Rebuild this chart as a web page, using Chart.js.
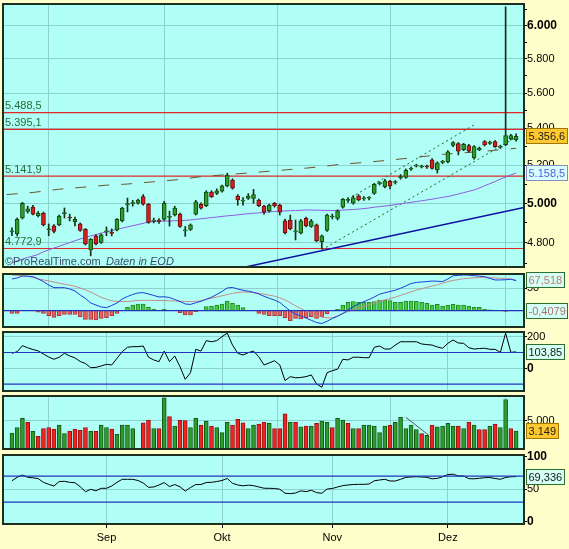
<!DOCTYPE html>
<html>
<head>
<meta charset="utf-8">
<script src="https://cdn.jsdelivr.net/npm/chart.js@4.4.1/dist/chart.umd.min.js"></script>
<style>
html, body { margin: 0; padding: 0; background: #FFFFCC; }
#wrap { position: relative; width: 569px; height: 549px; background: #FFFFCC; overflow: hidden; }
canvas { position: absolute; left: 0; }
</style>
</head>
<body>
<div id="wrap">
  <canvas id="price" width="569" height="280" style="top:0px"></canvas>
  <canvas id="macd" width="569" height="73" style="top:264px"></canvas>
  <canvas id="cci" width="569" height="79" style="top:322px"></canvas>
  <canvas id="vol" width="569" height="73" style="top:386px"></canvas>
  <canvas id="rsi" width="569" height="104" style="top:445px"></canvas>
</div>
<script>
// trading days
const dates = ['06.08','09.08','10.08','11.08','12.08','13.08','16.08','17.08','18.08','19.08','20.08','23.08','24.08','25.08','26.08','27.08','30.08','31.08',
  '01.09','02.09','03.09','06.09','07.09','08.09','09.09','10.09','13.09','14.09','15.09','16.09','17.09','20.09','21.09','22.09','23.09','24.09','27.09','28.09','29.09','30.09',
  '01.10','04.10','05.10','06.10','07.10','08.10','11.10','12.10','13.10','14.10','15.10','18.10','19.10','20.10','21.10','22.10','25.10','26.10','27.10','28.10','29.10',
  '01.11','02.11','03.11','04.11','05.11','08.11','09.11','10.11','11.11','12.11','15.11','16.11','17.11','18.11','19.11','22.11','23.11','24.11','25.11','26.11','29.11','30.11',
  '01.12','02.12','03.12','06.12','07.12','08.12','09.12','10.12','13.12','14.12','15.12','16.12','17.12','20.12'];
const monthNames = { '09': 'Sep', '10': 'Okt', '11': 'Nov', '12': 'Dez' };

const open = [4855,4845,4926,4958,4980,4937,4949,4866,4885,4890,4947,4928,4906,4895,4868,4766,4835,4803,4855,4850,
  4865,4911,4993,4998,5000,5034,4995,4909,4912,4918,4928,4940,4945,4860,4868,4945,4995,4988,5058,5051,
  5063,5090,5121,5037,5011,5025,5025,5017,4986,4962,5000,4991,4911,4915,4855,4849,4923,4882,4890,4806,
  4862,4930,4923,4980,5015,5000,5039,5023,5026,5051,5102,5086,5116,5108,5132,5135,5178,5195,5190,5193,
  5228,5174,5215,5218,5306,5317,5284,5306,5239,5282,5327,5318,5327,5296,5311,5342,5336];
const high = [4875,4925,5005,4985,4990,4958,4955,4895,4892,4940,4976,4945,4930,4900,4872,4822,4840,4845,4880,4870,
  4922,4980,5027,5015,5022,5045,5000,4925,4922,5010,4960,4985,4950,4882,4895,5015,5003,5065,5065,5075,
  5095,5157,5128,5045,5030,5050,5072,5022,4990,4996,5005,4996,4920,4940,4915,4918,4930,4918,4895,4840,
  4945,4945,4966,5025,5030,5040,5045,5035,5035,5103,5112,5125,5120,5118,5150,5180,5190,5205,5200,5200,
  5235,5218,5226,5278,5327,5322,5318,5312,5306,5298,5333,5330,5333,5308,6118,5368,5370];
const low = [4836,4835,4920,4950,4940,4930,4885,4836,4850,4886,4925,4910,4885,4858,4790,4737,4790,4798,4836,4835,
  4860,4905,4956,4985,4995,4990,4898,4900,4898,4912,4884,4935,4877,4833,4862,4940,4970,4983,5030,5045,
  5058,5085,5073,4990,4990,5020,5000,4983,4945,4955,4980,4940,4845,4865,4815,4845,4880,4878,4806,4771,
  4858,4920,4915,4975,5005,4995,5012,5015,5018,5046,5095,5080,5075,5100,5125,5130,5172,5190,5185,5183,
  5178,5158,5208,5212,5300,5255,5278,5270,5232,5278,5303,5312,5295,5290,5305,5336,5330];
const close = [4860,4918,5000,4971,4944,4950,4890,4870,4857,4935,4951,4925,4918,4862,4796,4818,4796,4840,4858,4848,
  4918,4975,4997,5002,5017,4995,4903,4913,4908,5000,4932,4975,4882,4864,4890,5007,4975,5058,5034,5065,
  5090,5147,5078,5017,5015,5037,5045,4988,4954,4991,4986,4954,4851,4870,4858,4911,4885,4910,4811,4836,
  4940,4934,4961,5020,5019,5028,5017,5027,5028,5098,5106,5117,5090,5111,5139,5172,5182,5199,5194,5190,
  5183,5213,5220,5272,5322,5275,5312,5275,5300,5291,5309,5322,5300,5300,5360,5360,5356.6];
const ma50 = [4705,4712,4721,4729,4736,4744,4757,4766,4775,4784,4793,4802,4811,4820,4827,4835,4842,4849,4855,4862,
  4868,4874,4880,4886,4892,4898,4905,4907,4908,4909,4910,4911,4912,4913,4915,4918,4921,4924,4927,4930,
  4933,4936,4938,4941,4944,4947,4949,4951,4953,4956,4958,4960,4961,4962,4963,4964,4966,4965,4965,4964,
  4964,4963,4964,4965,4967,4968,4970,4973,4976,4980,4983,4986,4989,4993,4997,5001,5005,5009,5013,5017,
  5021,5026,5031,5035,5041,5048,5055,5062,5069,5079,5091,5102,5113,5126,5137,5148,5158.5];
const maLongIdx = [-1, 4, 9, 13, 18, 22, 27, 32, 36, 45, 50, 54, 59, 63, 67, 72, 77, 82, 90, 96];
const maLong = [5045,5056,5073,5082,5094,5100,5112,5124,5139,5158,5170,5179,5192,5206,5214,5227,5242,5258,5275,5291];
const levels = [5488.5, 5395.1, 5141.9, 4772.9];
const trendIdx = [40, 97.5], trendVal = [4659, 4979];
const chanLowIdx = [59, 96], chanLow = [4766, 5351];
const chanHighIdx = [63, 88], chanHigh = [5005, 5420];
const priceTicks = [4700,4800,4900,5000,5100,5200,5300,5400,5500,5600,5700,5800,5900,6000,6100];

const macdLine = [70.8,73.1,77.6,76.9,76,70.8,64.8,57.4,51.4,51.4,51.4,48.5,44,35.1,27.3,17.2,12.7,8.3,6.7,11.6,
  17.2,26.1,31.7,36.2,39.6,40.2,37.3,34,30.6,31.1,29.5,25,20.6,15,13.9,17.7,21,25.5,29.9,36.2,
  42.9,50.7,51.9,48.5,45.6,43.6,41.1,37.3,32.2,27.7,23.9,18.3,8.9,-0.7,-7.4,-11.8,-16.3,-21.5,-26.4,-28.6,
  -23.7,-17.4,-12.5,-6.3,1.6,9.2,15,20.1,25,30.6,36.9,40,42.9,45.6,50.1,55.2,60.6,63,64.1,65,
  66.2,65.7,65,70.8,78,78.9,79.6,79.3,78.2,77.1,76,72,68.6,68.6,69.1,70.2,67.1];
const macdSignal = [79.8,78.9,78,77.1,74.2,71.3,68.6,66.4,63.9,61.5,59.2,57,54.5,50.7,46.3,41.8,35.8,29.9,25.5,22.1,
  20.6,20.3,20.6,21.7,22.8,23.2,23.2,23,22.8,22.6,22.1,21.7,21.2,20.6,20.3,20.8,22.1,25.3,27.9,30.6,
  33.3,36,38.7,40.5,41.8,41.3,40.2,39.1,36.9,34.6,32.4,28.6,23.9,17.7,11.2,4.7,-1.1,-6.5,-11.6,-14.1,
  -16.1,-15.9,-11.4,-6.3,-2,2.2,6.5,9.8,14.1,18.1,21.5,23.9,27,30.4,34.2,38.2,41.8,46,48.9,52.1,
  55,57.9,61.5,65,67.5,69.5,71.3,72.6,73.3,74,74.6,74,73.1,72.2,71.3,70.8,67.518];
const macdHist = [-6,-6,0,0,0,-3.4,-6,-11.2,-15,-11.2,-8.3,-8.3,-8.3,-13.4,-19.4,-19.4,-20.8,-17.2,-15.6,-11.2,
  -6,0,7.4,12.7,15,15,7.4,2.9,0,2.9,0,0,-4.5,-9.6,-9.6,-2.2,0,8.9,10.5,12.7,
  15,21.7,16.3,12.7,6.7,0,0,-6,-8.3,-11.2,-11.2,-11.2,-15.6,-22.4,-17.2,-18.6,-15.6,-13.4,-17.2,-13.4,
  -7.4,0,2.9,12.7,18.6,20.1,18.6,18.6,18.6,20.1,23.9,23.9,22.4,18.6,18.6,21.7,21.7,21.7,18.6,16.3,
  12.7,14.1,10.5,12.7,14.1,12.7,12.7,10.5,7.4,7.4,2.9,2.2,1.6,0,-1.6,0,-0.4079];

const cci = [95,105,143,130,119,110,90.5,71.5,57,70,95,78,66,43,30,4,6,15,25,21,
  63,105,133,137,137,141,70,53,42,109,42,78,10,-70,-28,120,109,175,168,175,
  200,222,147,95,84,99,109,73,21,34,48,21,-78,-53,-60,-58,-53,-42,-99,-120,
  -28,-15,-6,57,53,70,70,67,67,133,141,122,122,147,168,168,168,168,154,150,
  147,135,127,158,179,160,158,130,122,125,127,120,120,101,222,101,103.85];

const volume = [2820,3800,5430,4700,3130,2230,3620,3800,3500,4220,2720,3130,3500,3310,3800,3130,3130,4220,3800,3500,
  2590,4220,4220,3620,0,4630,5120,3620,3620,9050,5720,4040,5120,5000,3800,5430,4220,4940,4040,3800,
  2900,4700,4220,5250,4630,3620,4220,4400,4700,4520,3620,3620,6210,4700,4700,3910,4040,4040,4520,4940,
  4700,3800,5430,5120,4520,3620,3620,4220,4220,4040,2900,4040,4220,4700,5610,3620,4220,3440,2720,2410,
  4220,3910,4040,4520,4040,4040,3620,4700,4220,3440,3440,4040,4400,3800,8740,3620,3149];
const volUp = [1,1,1,0,1,0,0,0,0,1,1,0,0,0,0,1,0,1,1,0,
  1,1,1,1,1,0,0,1,0,1,0,1,0,0,1,1,0,1,0,1,
  1,1,0,0,0,1,1,0,0,1,0,0,0,1,0,1,0,1,0,1,
  1,0,1,1,0,1,0,1,1,1,1,1,0,1,1,1,1,1,0,1,
  0,1,1,1,1,0,1,0,1,0,0,1,0,1,1,0,1];
const volTrendIdx = [75, 79.3], volTrend = [5600, 2470];

const rsi = [63,68.3,71.8,68.3,67.5,66.3,60.6,57.5,54.9,61.8,62.2,60.6,60,53.8,46.2,49.8,47.7,51.4,51.4,54.9,
  60.6,65.2,65.2,65.2,63.4,59.5,52.9,53.4,56.5,60.2,54,57.2,53.7,47.2,52.6,57.2,57.2,60.3,60.6,61.8,
  63.4,66.5,59.1,56.5,55.2,56.2,55.5,53.5,51.5,51.4,51.1,50,43.8,43.2,44.2,47.5,46.3,48.3,44.8,43.7,
  50.3,51.1,53.4,55.5,56.5,57.2,57.5,57.5,58,63,64.2,65.2,62.6,62.6,65.2,68.2,68.8,69.2,68.8,68.3,
  66,66.6,69.1,72.6,73.1,70.3,70.3,66.2,66,66.8,67.7,68,66.5,65.2,68,69.2,69.336];

const X_MIN = -1.7, X_MAX = 97.5;
const PANEL = '#B0FFF6', GRID = '#8ECFCF', FRAME = '#1F2F1F', HLINE = '#2233BB';
const FONT = '"Liberation Sans", Arial, sans-serif';
Chart.defaults.font.family = FONT;

const monthIdx = dates.map((d, i) => i).filter(i => i > 0 && dates[i].slice(3) !== dates[i - 1].slice(3));
const last = a => a[a.length - 1];
const pts = a => a.map((v, i) => ({ x: i, y: v }));
const pair = (xs, ys) => xs.map((x, i) => ({ x: x, y: ys[i] }));
const hline = (v, color, w) => ({ data: [{ x: X_MIN, y: v }, { x: X_MAX, y: v }], borderColor: color, borderWidth: w, pointRadius: 0, order: 0 });

function fmt(v, dec) {
  const s = Math.abs(v).toFixed(dec).split('.');
  const int = s[0].replace(/\B(?=(\d{3})+(?!\d))/g, '.');
  return (v < 0 ? '-' : '') + int + (dec ? ',' + s[1] : '');
}

function xScale(showLabels) {
  return {
    type: 'linear', min: X_MIN, max: X_MAX, offset: false,
    afterBuildTicks: s => { s.ticks = monthIdx.map(v => ({ value: v })); },
    afterFit: s => { s.height = showLabels ? 25 : 0; s.paddingLeft = 0; s.paddingRight = 0; },
    grid: { color: GRID, drawTicks: showLabels, tickLength: 4, tickColor: '#000' },
    border: { display: false },
    ticks: { display: showLabels, padding: 3, color: '#000', maxRotation: 0, autoSkip: false,
      font: { size: 11 }, callback: v => monthNames[dates[v].slice(3)] }
  };
}

function yScale(o) {
  return {
    type: o.type || 'linear', position: 'right', min: o.min, max: o.max,
    afterBuildTicks: s => { s.ticks = o.ticks.map(v => ({ value: v })); },
    afterFit: s => { s.width = 45; s.paddingTop = 0; s.paddingBottom = 0; },
    border: { display: true, color: '#000', width: 1.5 },
    grid: { color: c => (c.tick && o.grid.includes(c.tick.value)) ? GRID : 'rgba(0,0,0,0)',
      tickColor: '#000', tickLength: 3 },
    ticks: { padding: 0, color: '#000', autoSkip: false,
      font: c => (c.tick && o.bold.includes(c.tick.value)) ? { size: 12, weight: 'bold' } : { size: 11, weight: 'normal' },
      callback: o.label }
  };
}

function valueBox(ctx, y, text, fill, stroke, color) {
  ctx.save();
  ctx.font = '11px ' + FONT;
  const w = Math.round(ctx.measureText(text).width) + 5, h = 16, x = 526, top = Math.round(y - h / 2);
  ctx.fillStyle = fill;
  ctx.fillRect(x, top, w, h);
  ctx.strokeStyle = stroke;
  ctx.lineWidth = 1;
  ctx.strokeRect(x + 0.5, top + 0.5, w - 1, h - 1);
  ctx.fillStyle = color;
  ctx.textBaseline = 'middle';
  ctx.fillText(text, x + 2.5, top + h / 2 + 1);
  ctx.restore();
}

function panel(extra) {
  return {
    id: 'panel',
    beforeDraw(chart) {
      const a = chart.chartArea, ctx = chart.ctx;
      ctx.save();
      ctx.fillStyle = PANEL;
      ctx.fillRect(a.left, a.top, a.right - a.left, a.bottom - a.top);
      ctx.restore();
    },
    afterDraw(chart) {
      const a = chart.chartArea, ctx = chart.ctx;
      ctx.save();
      ctx.strokeStyle = FRAME;
      ctx.lineWidth = 2;
      ctx.strokeRect(a.left, a.top, a.right - a.left, a.bottom - a.top);
      ctx.restore();
      if (extra) extra(chart, ctx, a, chart.scales.y);
    }
  };
}

function options(padding, xs, ys) {
  return {
    responsive: false, animation: false, events: [],
    layout: { padding: padding, autoPadding: false },
    plugins: { legend: { display: false }, tooltip: { enabled: false } },
    scales: { x: xs, y: ys }
  };
}

// --- price panel ---
const up = dates.map((d, i) => close[i] >= open[i]);
new Chart(document.getElementById('price'), {
  type: 'line',
  data: { datasets: [
    { type: 'bar', data: dates.map((d, i) => ({ x: i, y: [open[i], close[i]] })),
      backgroundColor: up.map(u => u ? '#2E9B2E' : '#D62020'), borderColor: up.map(u => u ? '#0E4A0E' : '#6A0A0A'),
      borderWidth: 1, borderSkipped: false, barThickness: 4, minBarLength: 1, grouped: false, order: 1 },
    { type: 'bar', data: dates.map((d, i) => ({ x: i, y: [low[i], high[i]] })),
      backgroundColor: '#123012', barThickness: 1, grouped: false, order: 2 },
    { data: pts(ma50), borderColor: '#8E5BE0', borderWidth: 1, pointRadius: 0, order: 3 },
    { data: pair(maLongIdx, maLong), borderColor: '#6E5234', borderWidth: 1, borderDash: [11, 12], pointRadius: 0, order: 4 },
    { data: pair(trendIdx, trendVal), borderColor: '#1010A0', borderWidth: 1.5, pointRadius: 0, order: 5 },
    { data: pair(chanLowIdx, chanLow), borderColor: '#1A6A1A', borderWidth: 1, borderDash: [2, 3], pointRadius: 0, order: 5 },
    { data: pair(chanHighIdx, chanHigh), borderColor: '#1A6A1A', borderWidth: 1, borderDash: [2, 3], pointRadius: 0, order: 5 },
    ...levels.map(l => Object.assign(hline(l, '#E02828', 1.2), { order: 6 }))
  ] },
  options: options({ left: 3, top: 4, right: 0, bottom: 13 }, xScale(false),
    yScale({ type: 'logarithmic', min: 4683, max: 6137, ticks: priceTicks,
      grid: [4800, 5000, 5200, 5400, 5600, 5800, 6000], bold: [5000, 6000],
      label: v => (v % 200 === 0 && v >= 4800 && v <= 6000) ? fmt(v, 0) : '' })),
  plugins: [panel((chart, ctx, a, ys) => {
    ctx.save();
    ctx.font = '11px ' + FONT;
    ctx.fillStyle = '#2B6B3B';
    ctx.textBaseline = 'bottom';
    levels.forEach(l => ctx.fillText(fmt(l, 1), a.left + 2, ys.getPixelForValue(l) - 1));
    ctx.fillStyle = '#3B4C6B';
    ctx.textBaseline = 'alphabetic';
    ctx.fillText('\u00A9ProRealTime.com', a.left + 2, a.bottom - 2);
    ctx.font = 'italic 11px ' + FONT;
    ctx.fillText('Daten in EOD', a.left + 103, a.bottom - 2);
    ctx.restore();
    valueBox(ctx, ys.getPixelForValue(last(close)), fmt(last(close), 1), '#FFC82E', '#A07800', '#222');
    valueBox(ctx, ys.getPixelForValue(last(ma50)), fmt(last(ma50), 1), '#D6FFFF', '#8A8AC0', '#5A5AD8');
  })]
});

// --- MACD ---
new Chart(document.getElementById('macd'), {
  type: 'line',
  data: { datasets: [
    hline(0, HLINE, 1.2),
    { data: pts(macdLine), borderColor: '#1E3CD8', borderWidth: 1, pointRadius: 0, order: 1 },
    { data: pts(macdSignal), borderColor: '#C48C8C', borderWidth: 1, pointRadius: 0, order: 2 },
    { type: 'bar', data: pts(macdHist), barThickness: 4, grouped: false, order: 3,
      backgroundColor: macdHist.map(v => v >= 0 ? '#44CC44' : '#E86262'),
      borderColor: macdHist.map(v => v >= 0 ? '#228A22' : '#B03434'), borderWidth: 1 }
  ] },
  options: options({ left: 3, top: 10, right: 0, bottom: 10 }, xScale(false),
    yScale({ min: -36.4, max: 81.9, ticks: [50], grid: [50], bold: [], label: v => fmt(v, 0) })),
  plugins: [panel((chart, ctx, a, ys) => {
    valueBox(ctx, ys.getPixelForValue(last(macdSignal)), fmt(last(macdSignal), 3), '#D4FFF4', '#2E6E2E', '#C07878');
    valueBox(ctx, ys.getPixelForValue(last(macdHist)), fmt(last(macdHist), 4), '#D4FFF4', '#2E6E2E', '#B07070');
  })]
});

// --- CCI ---
new Chart(document.getElementById('cci'), {
  type: 'line',
  data: { datasets: [
    hline(100, HLINE, 1.2), hline(-100, HLINE, 1.2),
    { data: pts(cci), borderColor: '#000', borderWidth: 1, pointRadius: 0, order: 1 }
  ] },
  options: options({ left: 3, top: 10, right: 0, bottom: 10 }, xScale(false),
    yScale({ min: -143.7, max: 229.7, ticks: [0, 200], grid: [0, 200], bold: [0], label: v => fmt(v, 0) })),
  plugins: [panel((chart, ctx, a, ys) => {
    valueBox(ctx, ys.getPixelForValue(last(cci)), fmt(last(cci), 2), '#D4FFF4', '#2E6E2E', '#1A1A1A');
  })]
});

// --- volume ---
new Chart(document.getElementById('vol'), {
  type: 'line',
  data: { datasets: [
    { data: pair(volTrendIdx, volTrend), borderColor: '#555', borderWidth: 1, pointRadius: 0, order: 0 },
    { type: 'bar', data: pts(volume), barThickness: 4, grouped: false, order: 1,
      backgroundColor: volUp.map(u => u ? '#2E9B2E' : '#EE2424'),
      borderColor: volUp.map(u => u ? '#145A14' : '#9A1010'), borderWidth: 1 }
  ] },
  options: options({ left: 3, top: 10, right: 0, bottom: 10 }, xScale(false),
    yScale({ min: 0, max: 9360, ticks: [5000], grid: [5000], bold: [], label: v => fmt(v, 0) })),
  plugins: [panel((chart, ctx, a, ys) => {
    valueBox(ctx, ys.getPixelForValue(last(volume)), fmt(last(volume), 0), '#FFC82E', '#A07800', '#222');
  })]
});

// --- RSI ---
new Chart(document.getElementById('rsi'), {
  type: 'line',
  data: { datasets: [
    hline(70, HLINE, 1.2), hline(30, HLINE, 1.2),
    { data: pts(rsi), borderColor: '#000', borderWidth: 1, pointRadius: 0, order: 1 }
  ] },
  options: options({ left: 3, top: 10, right: 0, bottom: 0 }, xScale(true),
    yScale({ min: -3.5, max: 102.6, ticks: [0, 50, 100], grid: [50], bold: [0, 100], label: v => fmt(v, 0) })),
  plugins: [panel((chart, ctx, a, ys) => {
    valueBox(ctx, ys.getPixelForValue(last(rsi)), fmt(last(rsi), 3), '#D4FFF4', '#2E6E2E', '#1A1A1A');
  })]
});
</script>
</body>
</html>
